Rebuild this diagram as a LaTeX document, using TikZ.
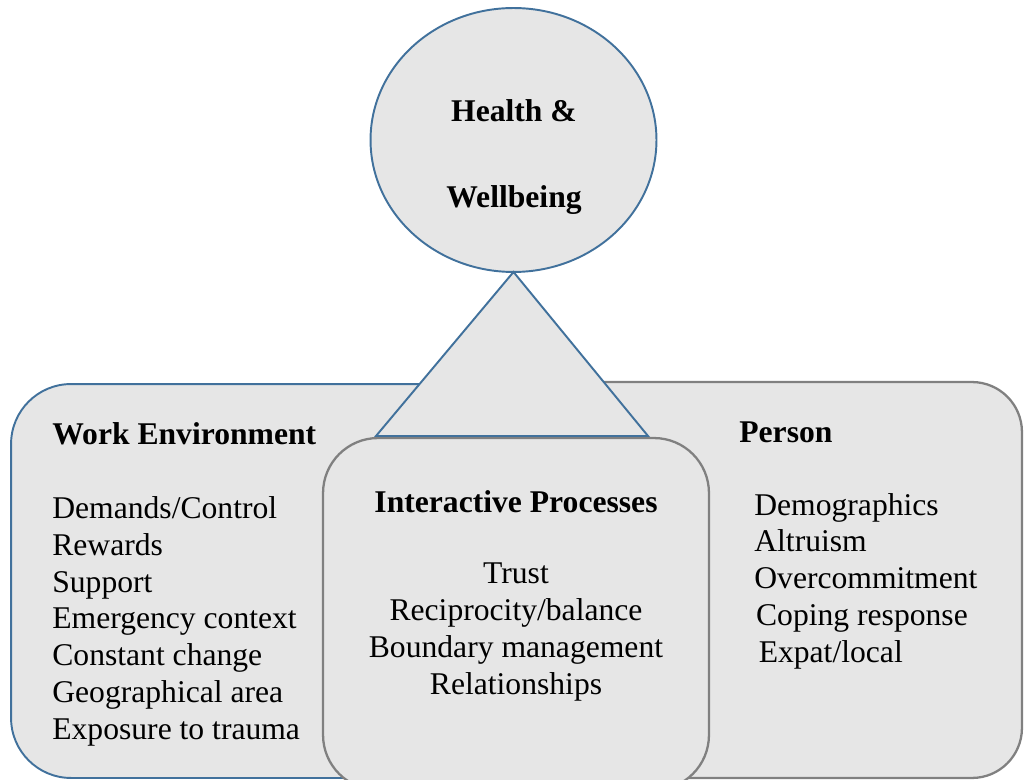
\documentclass[tikz,border=0pt]{standalone}
\usepackage{fontspec}
\setmainfont{Liberation Serif}
\usetikzlibrary{
  shapes.geometric,
}
\definecolor{boxfill}{RGB}{230,230,230}
\definecolor{edgeblue}{RGB}{65,113,156}
\definecolor{edgegray}{RGB}{128,128,128}
\tikzset{
  x = 0.02cm,
  y = -0.02cm,
  area/.style={
    rectangle, fill=boxfill, rounded corners=1.2cm,
    inner sep=0pt, outer sep=0pt,
  },
  bl/.style={draw=edgeblue, line width=1.1pt},
  gl/.style={draw=edgegray, line width=1.3pt},
  t/.style={font=\fontsize{18}{20.9}\selectfont, inner sep=0pt, align=left},
  tb/.style={font=\fontsize{18}{20.9}\selectfont\bfseries, inner sep=0pt},
}

\begin{document}
\begin{tikzpicture}
  \useasboundingbox (0,0) rectangle (1024,780);
  \clip (0,0) rectangle (1024,780);
  %%
  \node[area, bl, minimum width=10.98cm, minimum height=7.88cm]
  (Work) at (285.5,581) {};
  \node[area, gl, rounded corners=1cm,
  minimum width=11.04cm, minimum height=7.92cm]
  (Person) at (746,580) {};
  \node[area, gl, rounded corners=1.1cm,
  minimum width=7.72cm, minimum height=7.04cm]
  (Inter) at (516,614) {};
  %%
  \node[ellipse, bl, fill=boxfill, minimum width=5.72cm, minimum height=5.28cm,
  inner sep=0pt, outer sep=0pt]
  (Health) at (513.5,140) {};
  \draw[bl, fill=boxfill] (Health.south) -- (376,436) -- (648,436) -- cycle;
  %% base anchor = baseline of the last line
  \node[tb, align=center, anchor=base,
  font=\fontsize{18}{49.5}\selectfont\bfseries]
  (HealthT) at (514,208) {Health \&\\Wellbeing};
  %%
  \node[tb, anchor=base west] (WorkT) at (52,444) {Work Environment};
  \node[t, anchor=base west] (WorkL) at (52,739)
  {Demands/Control\\Rewards\\Support\\Emergency context\\
   Constant change\\Geographical area\\Exposure to trauma};
  %%
  \node[tb, anchor=base] (InterT) at (516,512) {Interactive Processes};
  \node[t, align=center, anchor=base] (InterL) at (516,694)
  {Trust\\Reciprocity/balance\\Boundary management\\Relationships};
  %%
  \node[tb, anchor=base west] (PersonT) at (739,442) {Person};
  \node[t, anchor=base west] (PersonL) at (754,662)
  {Demographics\\Altruism\\Overcommitment\\
   \hspace*{1pt}Coping response\\\hspace*{2.5pt}Expat/local};
\end{tikzpicture}
\end{document}
